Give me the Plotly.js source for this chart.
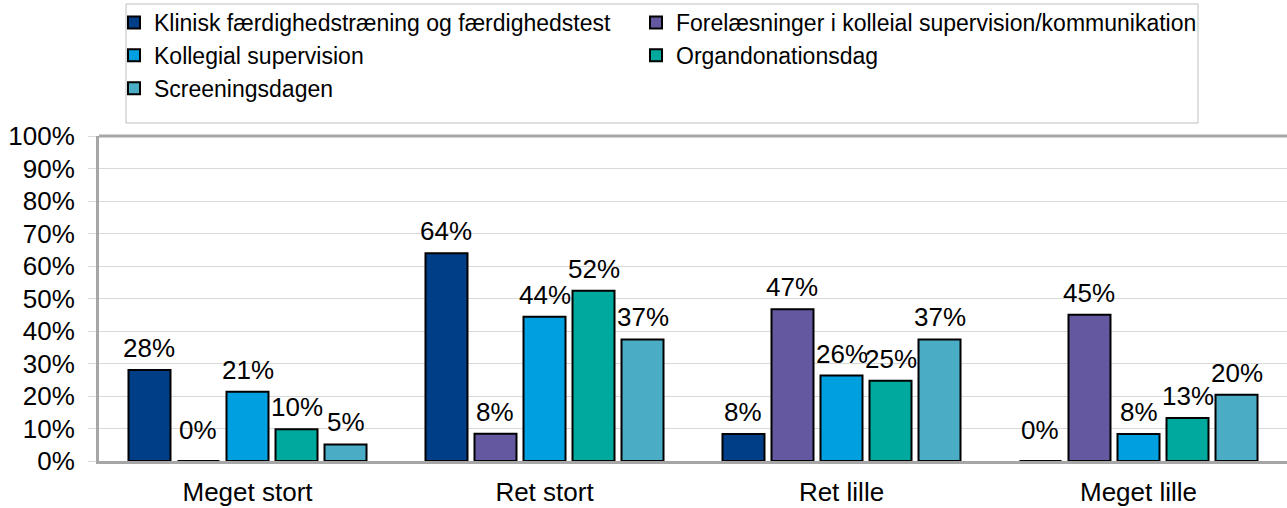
<!DOCTYPE html>
<html>
<head>
<meta charset="utf-8">
<script src="https://cdn.plot.ly/plotly-3.0.1.min.js"></script>
<style>html,body{margin:0;padding:0;background:#fff;}#chart{width:1287px;height:508px;}</style>
</head>
<body>
<div id="chart"></div>
<script>
const categories = ["Meget stort", "Ret stort", "Ret lille", "Meget lille"];
const seriesNames = [
  "Klinisk færdighedstræning og færdighedstest",
  "Forelæsninger i kolleial supervision/kommunikation",
  "Kollegial supervision",
  "Organdonationsdag",
  "Screeningsdagen"
];
const klinisk = [0.28, 0.639, 0.083, 0.0];
const forelaesninger = [0.0, 0.084, 0.467, 0.45];
const kollegial = [0.213, 0.444, 0.263, 0.083];
const organdonation = [0.098, 0.524, 0.247, 0.132];
const screening = [0.051, 0.374, 0.374, 0.204];
const colors = ["#003F87", "#6459A0", "#009FE0", "#00A99D", "#4BACC6"];
const yTickVals = [0, 0.1, 0.2, 0.3, 0.4, 0.5, 0.6, 0.7, 0.8, 0.9, 1.0];
const yTickText = ["0%", "10%", "20%", "30%", "40%", "50%", "60%", "70%", "80%", "90%", "100%"];

const values = [klinisk, forelaesninger, kollegial, organdonation, screening];
const legendOf = ["legend", "legend2", "legend", "legend2", "legend"];

const W = 1287, H = 508;
const L = 99, R = 0, T = 136, B = 47;
const pw = W - L - R, ph = H - T - B;
const px = x => (x - L) / pw;
const py = y => (H - B - y) / ph;
const BARGAP = 0.175, BARGROUPGAP = 0.143;
const nSeries = values.length;
const pitch = (pw / categories.length) * (1 - BARGAP) / nSeries;

const font = "Liberation Sans, Arial, sans-serif";

const traces = values.map((v, i) => ({
  type: "bar",
  name: seriesNames[i],
  x: categories,
  y: v,
  legend: legendOf[i],
  legendgroup: "g" + i,
  marker: {color: colors[i], line: {color: "#000000", width: 2}},
  hoverinfo: "skip"
}));

const annotations = [];
values.forEach((v, i) => {
  v.forEach((d, j) => {
    annotations.push({
      x: categories[j], y: d, xref: "x", yref: "y",
      text: Math.round(d * 100) + "%",
      showarrow: false,
      xanchor: "center", yanchor: "bottom",
      xshift: (i - (nSeries - 1) / 2) * pitch,
      yshift: d > 0 ? 5 : 14,
      font: {family: font, size: 26, color: "#000"}
    });
  });
});

const legendCommon = {
  orientation: "v",
  xanchor: "left",
  yanchor: "top",
  bgcolor: "rgba(0,0,0,0)",
  borderwidth: 0,
  font: {family: font, size: 23, color: "#000"},
  tracegroupgap: 2,
  itemwidth: 30,
  traceorder: "normal"
};

const layout = {
  width: W, height: H,
  margin: {l: L, r: R, t: T, b: B, pad: 0},
  paper_bgcolor: "#fff",
  plot_bgcolor: "#fff",
  barmode: "group",
  bargap: BARGAP,
  bargroupgap: BARGROUPGAP,
  font: {family: font, size: 26, color: "#000"},
  xaxis: {
    type: "category",
    showline: true, linecolor: "#a6a6a6", linewidth: 3,
    ticks: "", showgrid: false,
    ticklabelstandoff: 6,
    tickfont: {family: font, size: 26, color: "#000"},
    fixedrange: true
  },
  yaxis: {
    range: [0, 1],
    tickvals: yTickVals, ticktext: yTickText,
    showline: true, linecolor: "#a6a6a6", linewidth: 3,
    ticks: "outside", ticklen: 8, tickcolor: "#d9d9d9", tickwidth: 1,
    ticklabelstandoff: 8,
    gridcolor: "#d9d9d9", gridwidth: 1,
    zeroline: false,
    tickfont: {family: font, size: 26, color: "#000"},
    fixedrange: true
  },
  legend: Object.assign({}, legendCommon, {x: px(114), y: py(1)}),
  legend2: Object.assign({}, legendCommon, {x: px(636), y: py(1)}),
  annotations: annotations,
  shapes: [
    {type: "line", xref: "paper", yref: "paper", x0: 0, x1: 1, y0: 1, y1: 1,
     line: {color: "#a6a6a6", width: 3}},
    {type: "rect", xref: "paper", yref: "paper",
     x0: px(126), x1: px(1198), y0: py(123), y1: py(4),
     line: {color: "#bfbfbf", width: 1}, fillcolor: "rgba(0,0,0,0)"}
  ],
  showlegend: true
};

Plotly.newPlot("chart", traces, layout, {displayModeBar: false, staticPlot: true});
</script>
</body>
</html>
